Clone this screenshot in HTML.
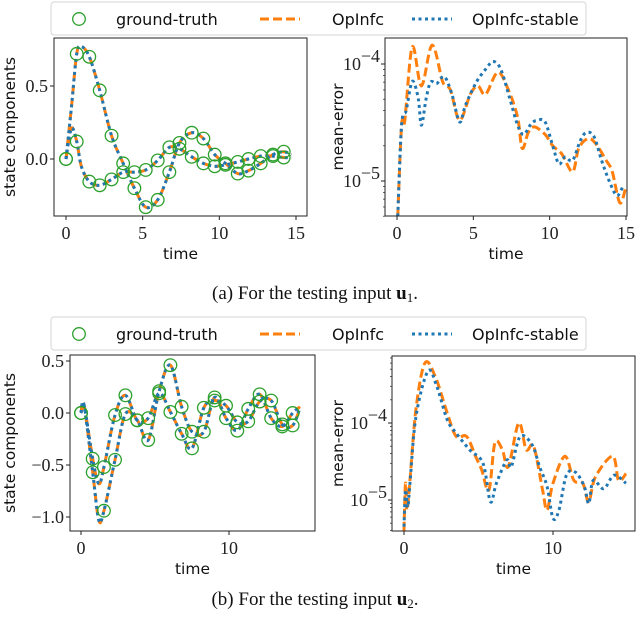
<!DOCTYPE html>
<html><head><meta charset="utf-8"><style>
body{margin:0;background:#fff;width:640px;height:619px;overflow:hidden}
svg{display:block}
.tk{font-family:"Liberation Serif",serif;font-size:18px;fill:#222}
.lb{font-family:"DejaVu Sans","Liberation Sans",sans-serif;font-size:15.5px;fill:#111}
.lg{font-family:"DejaVu Sans","Liberation Sans",sans-serif;font-size:16px;fill:#111}
.cap{font-family:"Liberation Serif",serif;font-size:19px;fill:#111}
</style></head><body>
<svg id="fig" width="640" height="619" viewBox="0 0 640 619" xmlns="http://www.w3.org/2000/svg"></svg>
<script>
// ---------- data: panel (a) state ----------
const gtTimeA = [0,0.7,1.52,2.2,2.97,3.73,4.46,5.2,5.98,6.74,7.4,8.2,8.96,9.7,10.4,11.2,11.9,12.7,13.5,14.2];
const gtA1 = [0,0.72,0.70,0.47,0.16,-0.03,-0.20,-0.33,-0.28,-0.09,0.11,0.18,0.14,0.03,-0.03,-0.10,-0.08,-0.03,0.03,0.05];
const gtA2 = [0,0.12,-0.155,-0.18,-0.14,-0.09,-0.09,-0.075,-0.01,0.08,0.07,0.015,-0.03,-0.05,-0.04,-0.02,0.0,0.02,0.02,0.01];
const lineTimeA = [0,0.35,0.7,1.0,1.52,2.2,2.97,3.73,4.46,5.2,5.98,6.74,7.4,8.2,8.96,9.7,10.4,11.2,11.9,12.7,13.5,14.2,14.7];
const opA1 = [0,0.35,0.72,0.77,0.70,0.47,0.16,-0.03,-0.20,-0.33,-0.28,-0.09,0.11,0.18,0.14,0.03,-0.03,-0.10,-0.08,-0.03,0.03,0.05,0.03];
const opA2 = [0,0.21,0.12,-0.05,-0.155,-0.18,-0.14,-0.09,-0.09,-0.075,-0.01,0.08,0.07,0.015,-0.03,-0.05,-0.04,-0.02,0.0,0.02,0.02,0.01,0.01];
const stA1 = opA1.slice();
const stA2 = opA2.slice();
// ---------- data: panel (a) error ----------
const errTimeA1 = [0.05,0.3,0.5,1.0,1.6,2.3,3.0,3.5,4.1,4.8,5.3,5.8,6.6,7.3,7.9,8.2,8.6,9.0,9.7,10.2,10.8,11.5,11.9,12.5,13.0,13.7,14.1,14.6,15.0];
const errOpA = [5e-6,3e-5,3.2e-5,1.4e-4,6.5e-5,1.45e-4,7e-5,6e-5,3.3e-5,5.5e-5,6.5e-5,5.5e-5,8.5e-5,6e-5,3.5e-5,1.9e-5,2.6e-5,2.9e-5,2.5e-5,2e-5,1.7e-5,1.2e-5,1.9e-5,2.3e-5,2.1e-5,1.5e-5,1.2e-5,6.5e-6,9e-6];
const errTimeA2 = [0.05,0.3,0.6,0.9,1.1,1.4,1.6,1.9,2.2,2.6,3.1,3.6,4.1,4.5,5.2,5.8,6.3,6.8,7.4,7.9,8.3,8.8,9.2,9.7,10.2,10.6,11.0,11.5,12.0,12.4,12.9,13.4,13.9,14.4,14.8];
const errStA = [5e-6,3e-5,4e-5,6.5e-5,7e-5,5e-5,3e-5,5e-5,7e-5,6.8e-5,7.8e-5,5.5e-5,3.2e-5,4.5e-5,7e-5,9e-5,1.05e-4,9e-5,5e-5,3e-5,2.5e-5,3.1e-5,3.3e-5,3.2e-5,2e-5,1.4e-5,1.6e-5,1.5e-5,2.2e-5,2.6e-5,2.4e-5,1.5e-5,1e-5,7.5e-6,9e-6];
// ---------- data: panel (b) state ----------
const gtTimeB = [0,0.79,1.55,2.3,3.0,3.8,4.54,5.28,6.04,6.8,7.5,8.3,9.03,9.8,10.56,11.3,12.07,12.85,13.6,14.3];
const gtB1 = [0,-0.57,-0.94,-0.45,-0.01,-0.07,-0.26,0.21,0.46,0.06,-0.18,-0.18,0.15,-0.05,-0.17,0.04,0.18,-0.05,-0.13,0.0];
const gtB2 = [0,-0.44,-0.52,-0.02,0.17,-0.07,-0.05,0.19,0.01,-0.2,-0.34,0.05,0.12,0.07,-0.09,-0.08,0.11,0.12,-0.11,-0.12];
const lineTimeB = [0,0.2,0.79,1.2,1.55,2.3,3.0,3.8,4.54,5.28,6.04,6.8,7.5,8.3,9.03,9.8,10.56,11.3,12.07,12.85,13.6,14.3,14.8];
const opB1 = [0,0.08,-0.57,-1.03,-0.94,-0.45,-0.01,-0.07,-0.26,0.21,0.46,0.06,-0.18,-0.18,0.15,-0.05,-0.17,0.04,0.18,-0.05,-0.13,0.0,0.06];
const opB2 = [0,0.08,-0.44,-0.68,-0.52,-0.02,0.17,-0.07,-0.05,0.19,0.01,-0.2,-0.34,0.05,0.12,0.07,-0.09,-0.08,0.11,0.12,-0.11,-0.12,0.05];
const stB1 = opB1.slice();
const stB2 = opB2.slice();
// ---------- data: panel (b) error ----------
const errTimeB1 = [0,0.1,0.2,0.4,0.8,1.4,2.1,2.9,3.5,4.2,4.8,5.2,5.7,6.1,6.6,7.0,7.7,8.2,8.7,9.3,9.6,10.0,10.8,11.4,12.0,12.4,12.85,14.0,14.4,14.9];
const errOpB = [4e-6,1.65e-5,7.4e-6,1.8e-5,1.5e-4,6e-4,4e-4,1.35e-4,6.7e-5,6.7e-5,3.7e-5,2.5e-5,1.35e-5,5.5e-5,4.5e-5,2.7e-5,1e-4,4.5e-5,5e-5,1.35e-5,7.4e-6,1.65e-5,3.7e-5,1.8e-5,1.65e-5,9.5e-6,2e-5,3.7e-5,1.8e-5,2.2e-5];
const errTimeB2 = [0,0.1,0.25,0.4,0.8,1.6,2.2,2.9,3.5,4.4,5.3,5.8,6.2,6.9,7.2,7.8,8.6,9.1,9.6,10.0,10.4,10.9,11.5,12.1,12.4,12.7,13.4,14.1,14.9];
const errStB = [4.5e-6,1.35e-5,8e-6,1.65e-5,1.2e-4,4.7e-4,3e-4,1.1e-4,7.4e-5,4.5e-5,3e-5,9.5e-6,1.65e-5,3.3e-5,2.7e-5,6.7e-5,5.2e-5,2.7e-5,1.5e-5,5.8e-6,7.4e-6,2.1e-5,2.3e-5,1.5e-5,9e-6,1.8e-5,1.4e-5,2.1e-5,1.65e-5];
const xTicksA = [0,5,10,15];
const xTicksB = [0,10];
const yTicksA = [0,0.5];
const yTicksB = [-1,-0.5,0,0.5];

const NS="http://www.w3.org/2000/svg";
const svg=document.getElementById('fig');
function mk(tag,attrs,parent){const e=document.createElementNS(NS,tag);for(const k in attrs)e.setAttribute(k,attrs[k]);(parent||svg).appendChild(e);return e;}
function smooth(pts){let d='M'+pts[0][0].toFixed(2)+','+pts[0][1].toFixed(2);
 for(let i=0;i<pts.length-1;i++){const p0=pts[Math.max(0,i-1)],p1=pts[i],p2=pts[i+1],p3=pts[Math.min(pts.length-1,i+2)];
  const c1=[p1[0]+(p2[0]-p0[0])/6,p1[1]+(p2[1]-p0[1])/6],c2=[p2[0]-(p3[0]-p1[0])/6,p2[1]-(p3[1]-p1[1])/6];
  d+=' C'+c1.map(v=>v.toFixed(2)).join(',')+' '+c2.map(v=>v.toFixed(2)).join(',')+' '+p2[0].toFixed(2)+','+p2[1].toFixed(2);}
 return d;}

function panel(o){
 const g=mk('g',{});
 
 
 const xs=t=>o.x0+(t-o.t0)*(o.x1-o.x0)/(o.t1-o.t0);
 const ys=o.log?(v=>o.y0+(Math.log10(v)-o.v0)*(o.y1-o.y0)/(o.v1-o.v0)):(v=>o.y0+(v-o.v0)*(o.y1-o.y0)/(o.v1-o.v0));
 const cp='clip-'+o.name;
 const cl=mk('clipPath',{id:cp},g);mk('rect',{x:o.L,y:o.T,width:o.R-o.L,height:o.B-o.T},cl);
 const lines=mk('g',{'clip-path':'url(#'+cp+')'},g);
 o.series.forEach(s=>{
  const pts=s.t.map((t,i)=>[xs(t),ys(s.v[i])]);
  const p=mk('path',{d:smooth(pts),fill:'none',stroke:s.c,'stroke-width':s.w,'stroke-dasharray':s.dash,'stroke-linecap':'butt'},lines);
  
  
 });
 (o.circles||[]).forEach(s=>{
  s.t.forEach((t,i)=>{const c=mk('circle',{cx:xs(t),cy:ys(s.v[i]),r:6.3,fill:'none',stroke:'#2ca02c','stroke-width':1.3},lines);
   
   });
 });
 mk('rect',{x:o.L,y:o.T,width:o.R-o.L,height:o.B-o.T,fill:'none',stroke:'#222','stroke-width':1},g);
 o.xt.forEach(t=>{const x=xs(t);mk('line',{x1:x,x2:x,y1:o.B,y2:o.B+4,stroke:'#222'},g);
  const tx=mk('text',{x:x,y:o.B+23,'text-anchor':'middle',class:'tk'},g);tx.textContent=t;
  
  });
 if(o.log){
  for(let e=-7;e<=-2;e++){for(let m=1;m<10;m++){const v=m*Math.pow(10,e);const y=ys(v);if(y<o.T-0.5||y>o.B+0.5)continue;
   mk('line',{x1:o.L-(m==1?4:2),x2:o.L,y1:y,y2:y,stroke:'#222','stroke-width':m==1?1:0.7},g);
   if(m==1){const tx=mk('text',{x:o.L-24,y:y+6,'text-anchor':'end',class:'tk'},g);tx.textContent='10';
    
    
    const sp=mk('text',{x:o.L-5,y:y-2,'text-anchor':'end',class:'tk','font-size':'13px'},g);sp.textContent='\u2212'+(-e);}}}
 } else {
  o.yt.forEach(v=>{const y=ys(v);mk('line',{x1:o.L-4,x2:o.L,y1:y,y2:y,stroke:'#222'},g);
   const tx=mk('text',{x:o.L-6,y:y+6,'text-anchor':'end',class:'tk'},g);tx.textContent=(v<0?'\u2212':'')+Math.abs(v).toFixed(1);
   
   });
 }
 const xl=mk('text',{x:(o.L+o.R)/2,y:o.B+43,'text-anchor':'middle',class:'lb'},g);xl.textContent='time';
 
 
 const yl=mk('text',{x:0,y:0,'text-anchor':'middle',class:'lb',transform:'translate('+o.ylx+','+((o.T+o.B)/2)+') rotate(-90)'},g);yl.textContent=o.ylab;
 
 
}
const OR='#ff7f0e',BL='#1f77b4';
function lineSeries(t,a,b,c,d){return [
 {t:t,v:a,c:OR,w:3,dash:'9,4',nm:'opinfc-line'},{t:t,v:b,c:OR,w:3,dash:'9,4',nm:'opinfc-line'},
 {t:t,v:c,c:BL,w:3,dash:'3,3.5',nm:'opinfc-stable-line'},{t:t,v:d,c:BL,w:3,dash:'3,3.5',nm:'opinfc-stable-line'}];}
panel({name:'state-plot-a',L:54,R:307,T:38,B:216,x0:66,x1:296,t0:0,t1:15,y0:159,y1:86,v0:0,v1:0.5,log:false,
 xt:xTicksA,yt:yTicksA,ylab:'state components',ylx:15,
 series:lineSeries(lineTimeA,opA1,opA2,stA1,stA2),circles:[{t:gtTimeA,v:gtA1},{t:gtTimeA,v:gtA2}]});
panel({name:'error-plot-a',L:385,R:627,T:38,B:216,x0:397,x1:626,t0:0,t1:15,y0:64,y1:181,v0:-4,v1:-5,log:true,
 xt:xTicksA,ylab:'mean-error',ylx:343,
 series:[{t:errTimeA1,v:errOpA,c:OR,w:3,dash:'9,4',nm:'opinfc-error'},{t:errTimeA2,v:errStA,c:BL,w:3,dash:'3,3.5',nm:'opinfc-stable-error'}]});
panel({name:'state-plot-b',L:70,R:315,T:355,B:531,x0:81,x1:229,t0:0,t1:10,y0:413,y1:361,v0:0,v1:0.5,log:false,
 xt:xTicksB,yt:yTicksB,ylab:'state components',ylx:15,
 series:lineSeries(lineTimeB,opB1,opB2,stB1,stB2),circles:[{t:gtTimeB,v:gtB1},{t:gtTimeB,v:gtB2}]});
panel({name:'error-plot-b',L:392,R:635,T:356,B:531,x0:404,x1:553,t0:0,t1:10,y0:423,y1:500,v0:-4,v1:-5,log:true,
 xt:xTicksB,ylab:'mean-error',ylx:343,
 series:[{t:errTimeB1,v:errOpB,c:OR,w:3,dash:'9,4',nm:'opinfc-error'},{t:errTimeB2,v:errStB,c:BL,w:3,dash:'3,3.5',nm:'opinfc-stable-error'}]});

function legend(y,name){
 const g=mk('g',{});
 
 
 mk('rect',{x:51,y:y,width:535,height:33,rx:3,fill:'#fff',stroke:'#d6d6d6'},g);
 mk('circle',{cx:79,cy:y+17,r:6.3,fill:'none',stroke:'#2ca02c','stroke-width':1.3},g);
 let t=mk('text',{x:116,y:y+23,class:'lg'},g);t.textContent='ground-truth';
 mk('line',{x1:260,x2:300,y1:y+17,y2:y+17,stroke:OR,'stroke-width':3,'stroke-dasharray':'9,4'},g);
 t=mk('text',{x:332,y:y+23,class:'lg'},g);t.textContent='OpInfc';
 mk('line',{x1:412,x2:452,y1:y+17,y2:y+17,stroke:BL,'stroke-width':3,'stroke-dasharray':'3,3.5'},g);
 t=mk('text',{x:472,y:y+23,class:'lg'},g);t.textContent='OpInfc-stable';
}
legend(2,'legend-a');
legend(317,'legend-b');

const cA=mk('text',{x:315,y:299,'text-anchor':'middle',class:'cap'});


cA.innerHTML='(a) For the testing input <tspan font-weight="bold">u</tspan><tspan font-size="13px" dy="3">1</tspan><tspan dy="-3">.</tspan>';
const cB=mk('text',{x:315,y:605,'text-anchor':'middle',class:'cap'});


cB.innerHTML='(b) For the testing input <tspan font-weight="bold">u</tspan><tspan font-size="13px" dy="3">2</tspan><tspan dy="-3">.</tspan>';
</script>
</body></html>
